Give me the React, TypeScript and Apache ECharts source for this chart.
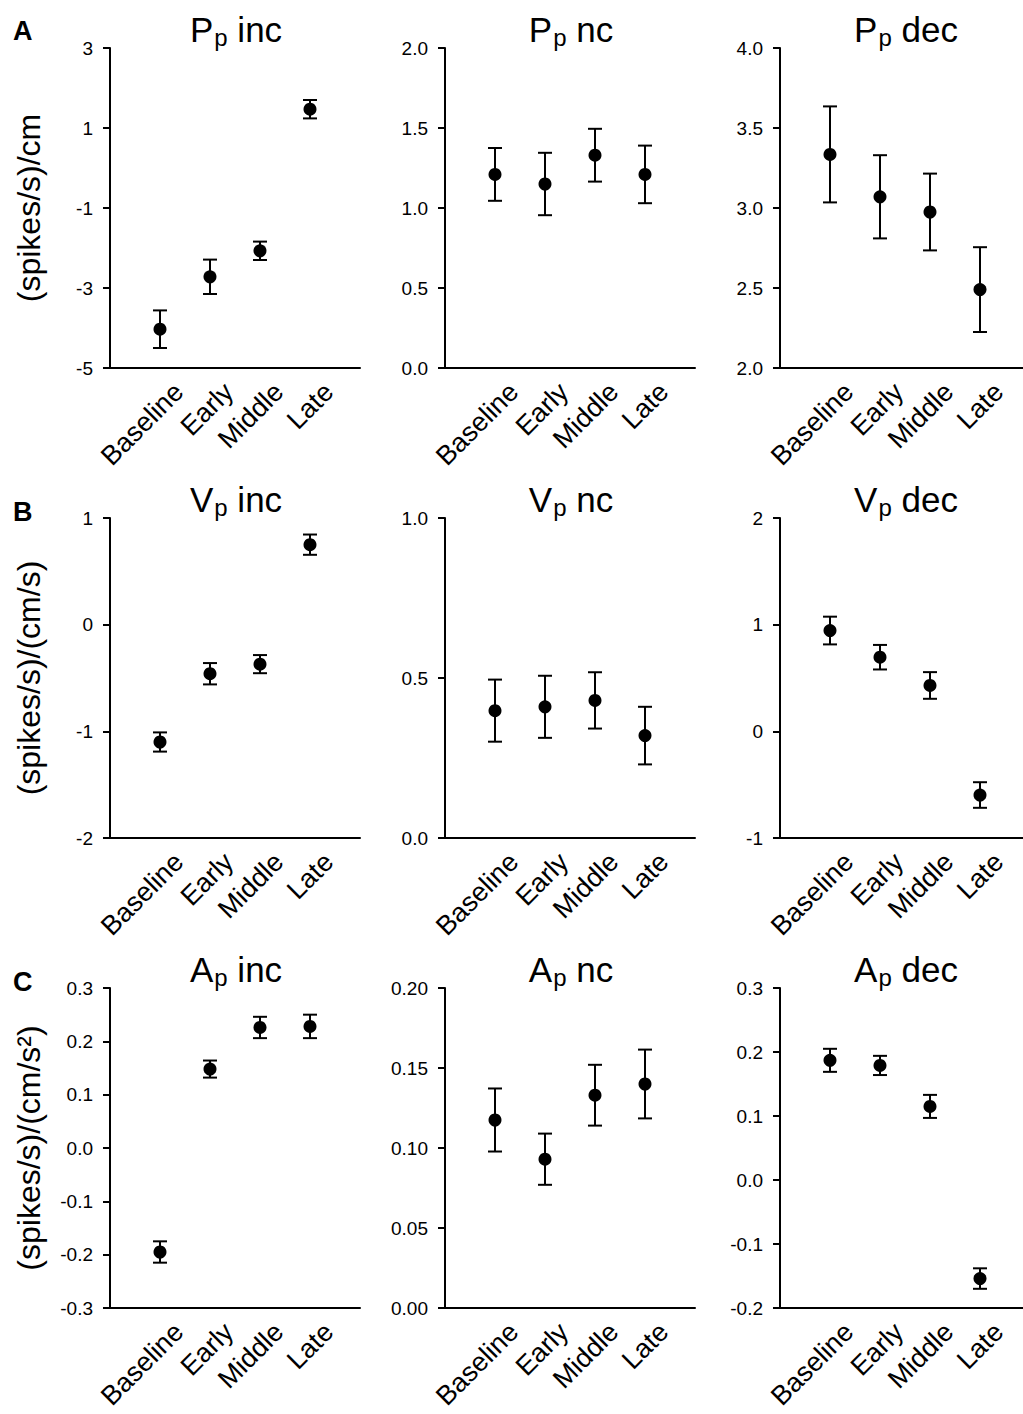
import React, { useEffect, useRef } from 'react';
import * as echarts from 'echarts';

// ---------- data ----------
const categories = ['Baseline', 'Early', 'Middle', 'Late'];
const categoryX = [1, 2, 3, 4];

const ppIncMean = [-4.03, -2.72, -2.07, 1.47];
const ppIncErr = [0.47, 0.43, 0.23, 0.23];
const ppNcMean = [1.21, 1.15, 1.33, 1.21];
const ppNcErr = [0.165, 0.195, 0.165, 0.18];
const ppDecMean = [3.335, 3.07, 2.975, 2.49];
const ppDecErr = [0.3, 0.26, 0.24, 0.265];

const vpIncMean = [-1.1, -0.46, -0.37, 0.75];
const vpIncErr = [0.09, 0.1, 0.085, 0.095];
const vpNcMean = [0.398, 0.41, 0.43, 0.32];
const vpNcErr = [0.097, 0.097, 0.088, 0.09];
const vpDecMean = [0.945, 0.695, 0.43, -0.597];
const vpDecErr = [0.13, 0.115, 0.125, 0.12];

const apIncMean = [-0.195, 0.148, 0.226, 0.228];
const apIncErr = [0.02, 0.016, 0.02, 0.022];
const apNcMean = [0.1175, 0.093, 0.133, 0.14];
const apNcErr = [0.0197, 0.016, 0.019, 0.0215];
const apDecMean = [0.187, 0.179, 0.115, -0.154];
const apDecErr = [0.018, 0.015, 0.018, 0.016];

// y axis: [min, max, interval, decimals]
const ppIncAxis = [-5, 3, 2, 0];
const ppNcAxis = [0, 2, 0.5, 1];
const ppDecAxis = [2, 4, 0.5, 1];
const vpIncAxis = [-2, 1, 1, 0];
const vpNcAxis = [0, 1, 0.5, 1];
const vpDecAxis = [-1, 2, 1, 0];
const apIncAxis = [-0.3, 0.3, 0.1, 1];
const apNcAxis = [0, 0.2, 0.05, 2];
const apDecAxis = [-0.2, 0.3, 0.1, 1];

const rowLetters = ['A', 'B', 'C'];
const rowVariables = ['P', 'V', 'A'];
const colKinds = ['inc', 'nc', 'dec'];
const rowUnits = ['(spikes/s)/cm', '(spikes/s)/(cm/s)', '(spikes/s)/(cm/s\u00B2)'];

const means = [
  [ppIncMean, ppNcMean, ppDecMean],
  [vpIncMean, vpNcMean, vpDecMean],
  [apIncMean, apNcMean, apDecMean],
];
const errs = [
  [ppIncErr, ppNcErr, ppDecErr],
  [vpIncErr, vpNcErr, vpDecErr],
  [apIncErr, apNcErr, apDecErr],
];
const axes = [
  [ppIncAxis, ppNcAxis, ppDecAxis],
  [vpIncAxis, vpNcAxis, vpDecAxis],
  [apIncAxis, apNcAxis, apDecAxis],
];

// ---------- layout ----------
const FONT = "'Liberation Sans', Arial, Helvetica, sans-serif";
const colLeft = [110, 445, 780];
const rowTop = [48, 518, 988];
const letterTop = [12, 493, 963];
const PW = 250;
const PH = 320;

function buildOption() {
  const grid: any[] = [];
  const xAxis: any[] = [];
  const yAxis: any[] = [];
  const series: any[] = [];
  const title: any[] = [];

  for (let r = 0; r < 3; r++) {
    title.push({
      text: rowLetters[r],
      left: 8,
      top: letterTop[r],
      textStyle: { fontFamily: FONT, fontSize: 27, fontWeight: 'bold', color: '#000' },
    });
    for (let c = 0; c < 3; c++) {
      const i = r * 3 + c;
      const [mn, mx, iv, dec] = axes[r][c];
      grid.push({
        left: colLeft[c],
        top: rowTop[r],
        width: PW,
        height: PH,
        containLabel: false,
        outerBoundsMode: 'none',
      });
      title.push({
        text: `{m|${rowVariables[r]}}{s|p}{m| ${colKinds[c]}}`,
        left: colLeft[c] + PW / 2 - 4,
        top: rowTop[r] - 41,
        textAlign: 'center',
        textStyle: {
          fontWeight: 'normal',
          rich: {
            m: { fontFamily: FONT, fontSize: 35, fontWeight: 'normal', color: '#000', verticalAlign: 'top' },
            s: {
              fontFamily: FONT,
              fontSize: 24,
              fontWeight: 'normal',
              color: '#000',
              verticalAlign: 'top',
              padding: [13, 0, 0, 1],
            },
          },
        },
      });
      xAxis.push({
        type: 'value',
        gridIndex: i,
        min: 0,
        max: 5,
        interval: 1,
        axisLine: { show: true, onZero: false, lineStyle: { color: '#000', width: 2 } },
        axisTick: { show: false },
        splitLine: { show: false },
        axisLabel: {
          rotate: 45,
          margin: 19,
          align: 'right',
          verticalAlign: 'top',
          padding: [0, -13, 0, 0],
          fontFamily: FONT,
          fontSize: 27,
          color: '#000',
          formatter: (v: number) => {
            const k = categoryX.indexOf(Math.round(v));
            return k >= 0 && Math.abs(v - Math.round(v)) < 1e-9 ? categories[k] : '';
          },
        },
      });
      yAxis.push({
        type: 'value',
        gridIndex: i,
        min: mn,
        max: mx,
        interval: iv,
        name: c === 0 ? rowUnits[r] : '',
        nameLocation: 'middle',
        nameRotate: 90,
        nameGap: 65,
        nameTextStyle: { fontFamily: FONT, fontSize: 32, color: '#000' },
        axisLine: { show: true, onZero: false, lineStyle: { color: '#000', width: 2 } },
        axisTick: { show: true, inside: false, length: 7, lineStyle: { color: '#000', width: 2 } },
        splitLine: { show: false },
        axisLabel: {
          margin: 17,
          fontFamily: FONT,
          fontSize: 19,
          color: '#000',
          formatter: (v: number) => (Math.abs(v) < 1e-9 ? 0 : v).toFixed(dec),
        },
      });
      const m = means[r][c];
      const e = errs[r][c];
      series.push({
        type: 'custom',
        xAxisIndex: i,
        yAxisIndex: i,
        data: categoryX.map((x, k) => [x, m[k] - e[k], m[k] + e[k]]),
        encode: { x: 0, y: [1, 2] },
        renderItem: (params: any, api: any) => {
          const x = api.value(0);
          const lo = api.coord([x, api.value(1)]);
          const hi = api.coord([x, api.value(2)]);
          const hw = 7;
          const style = { stroke: '#000', lineWidth: 2 };
          return {
            type: 'group',
            children: [
              { type: 'line', shape: { x1: hi[0], y1: hi[1], x2: lo[0], y2: lo[1] }, style },
              { type: 'line', shape: { x1: hi[0] - hw, y1: hi[1], x2: hi[0] + hw, y2: hi[1] }, style },
              { type: 'line', shape: { x1: lo[0] - hw, y1: lo[1], x2: lo[0] + hw, y2: lo[1] }, style },
            ],
          };
        },
        z: 2,
      });
      series.push({
        type: 'scatter',
        xAxisIndex: i,
        yAxisIndex: i,
        symbol: 'circle',
        symbolSize: 13,
        itemStyle: { color: '#000', opacity: 1 },
        data: categoryX.map((x, k) => [x, m[k]]),
        z: 3,
      });
    }
  }

  return {
    animation: false,
    backgroundColor: '#fff',
    title,
    grid,
    xAxis,
    yAxis,
    series,
  };
}

export default function App() {
  const ref = useRef<HTMLDivElement>(null);
  useEffect(() => {
    if (!ref.current) return;
    const chart = echarts.init(ref.current, undefined, { renderer: 'svg' });
    chart.setOption(buildOption() as any);
    return () => chart.dispose();
  }, []);
  return (
    <div
      ref={ref}
      style={{ position: 'absolute', left: 0, top: 0, width: 1023, height: 1414, background: '#fff' }}
    />
  );
}
